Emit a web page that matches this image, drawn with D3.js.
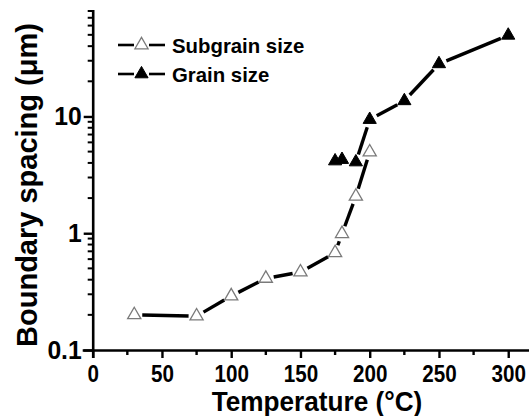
<!DOCTYPE html>
<html><head><meta charset="utf-8">
<script src="https://cdn.jsdelivr.net/npm/d3@7"></script>
<style>body{margin:0;background:#fff}svg{display:block}text{font-family:"Liberation Sans",Arial,sans-serif;font-weight:bold;fill:#000}</style>
</head><body>
<svg id="c" width="529" height="416"></svg>
<script>
const subTemps = [30, 75, 100, 125, 150, 175, 180, 190, 200];
const subValues = [0.2, 0.195, 0.29, 0.41, 0.465, 0.68, 0.99, 2.07, 4.95];
const grainTemps = [175, 180, 190, 200, 225, 250, 300];
const grainValues = [4.15, 4.27, 4.07, 9.4, 13.6, 28.2, 49.5];
const grainLineFrom = 190;
const xTicks = [0, 50, 100, 150, 200, 250, 300];
const yTicks = [0.1, 1, 10];
const legendLabels = ["Subgrain size", "Grain size"];

const svg = d3.select("#c");
const x = d3.scaleLinear().domain([0, 315]).range([92.7, 529]);
const y = d3.scaleLog().domain([0.1, 80]).range([350, 11]);

// axes
const xAxis = d3.axisBottom(x).tickValues(xTicks).tickSize(8).tickPadding(0).tickFormat(d3.format("d"));
const gx = svg.append("g").attr("transform", "translate(0,350)").call(xAxis);
gx.select(".domain").attr("stroke-width", 2.6).attr("d", `M${x(0)-10},0.5H529`);
gx.selectAll(".tick line").attr("stroke-width", 2.4);
gx.selectAll(".tick text").style("font-size", "24px").attr("dy", null).attr("y", 32)
  .attr("transform", "scale(0.86,1)");
const minorX = d3.range(25, 301, 50);
svg.append("g").selectAll("line").data(minorX).join("line")
  .attr("x1", d => x(d)).attr("x2", d => x(d)).attr("y1", 350).attr("y2", 355)
  .attr("stroke", "#000").attr("stroke-width", 2.4);

const yAxis = d3.axisLeft(y).tickValues(yTicks).tickSize(9).tickPadding(3).tickFormat(d => d3.format("~g")(d));
const gy = svg.append("g").attr("transform", `translate(${x(0)},0)`).call(yAxis);
gy.select(".domain").attr("stroke-width", 2.6).attr("d", `M0.5,${y(80)-1}V358`);
gy.selectAll(".tick line").attr("stroke-width", 2.4);
const ySx = 0.95;
gy.selectAll(".tick text").style("font-size", "26px").attr("x", -11 / ySx)
  .attr("transform", `scale(${ySx},1)`);
const minorY = [];
[0.1, 1, 10].forEach(b => { for (let k = 2; k <= 9; k++) if (b * k <= 80.01) minorY.push(b * k); });
svg.append("g").selectAll("line").data(minorY).join("line")
  .attr("x1", x(0) - 5).attr("x2", x(0)).attr("y1", d => y(d)).attr("y2", d => y(d))
  .attr("stroke", "#000").attr("stroke-width", 2);

// titles
svg.append("text").attr("transform", "translate(317,411) scale(0.97,1)").attr("text-anchor", "middle")
  .style("font-size", "27px").text("Temperature (°C)");
svg.append("text").attr("transform", "translate(37,185) rotate(-90)").attr("text-anchor", "middle")
  .style("font-size", "29px").text("Boundary spacing  (μm)");

// series
const sub = subTemps.map((t, i) => ({t, v: subValues[i]}));
const grain = grainTemps.map((t, i) => ({t, v: grainValues[i]}));
const gap = 8;
function segments(pts) {
  const segs = [];
  for (let i = 0; i < pts.length - 1; i++) {
    const x1 = x(pts[i].t), y1 = y(pts[i].v), x2 = x(pts[i+1].t), y2 = y(pts[i+1].v);
    const L = Math.hypot(x2 - x1, y2 - y1);
    if (L <= 2 * gap) continue;
    const ux = (x2 - x1) / L, uy = (y2 - y1) / L;
    segs.push([x1 + ux * gap, y1 + uy * gap, x2 - ux * gap, y2 - uy * gap]);
  }
  return segs;
}
function drawSegs(pts) {
  svg.append("g").selectAll("line").data(segments(pts)).join("line")
    .attr("x1", d => d[0]).attr("y1", d => d[1]).attr("x2", d => d[2]).attr("y2", d => d[3])
    .attr("stroke", "#000").attr("stroke-width", 3.4).attr("stroke-linecap", "butt");
}
drawSegs(sub);
drawSegs(grain.filter(d => d.t >= grainLineFrom));

const tri = d3.symbol().type(d3.symbolTriangle).size(75);
svg.append("g").selectAll("path").data(sub).join("path")
  .attr("d", tri).attr("transform", d => `translate(${x(d.t)},${y(d.v)})`)
  .attr("fill", "#fff").attr("stroke", "#7a7a7a").attr("stroke-width", 1.3);
svg.append("g").selectAll("path").data(grain).join("path")
  .attr("d", tri).attr("transform", d => `translate(${x(d.t)},${y(d.v)})`)
  .attr("fill", "#000").attr("stroke", "#000").attr("stroke-width", 1);

// legend
const leg = svg.append("g");
legendLabels.forEach((lab, i) => {
  const cy = 45 + i * 29;
  leg.append("line").attr("x1", 118).attr("x2", 134).attr("y1", cy).attr("y2", cy).attr("stroke", "#000").attr("stroke-width", 2.6);
  leg.append("line").attr("x1", 149).attr("x2", 165).attr("y1", cy).attr("y2", cy).attr("stroke", "#000").attr("stroke-width", 2.6);
  leg.append("path").attr("d", tri).attr("transform", `translate(141.5,${cy})`)
    .attr("fill", i === 0 ? "#fff" : "#000").attr("stroke", i === 0 ? "#7a7a7a" : "#000").attr("stroke-width", i === 0 ? 1.3 : 1);
  leg.append("text").attr("transform", `translate(172,${cy + 8}) scale(0.97,1)`).style("font-size", "21px").text(lab);
});
</script>
</body></html>
